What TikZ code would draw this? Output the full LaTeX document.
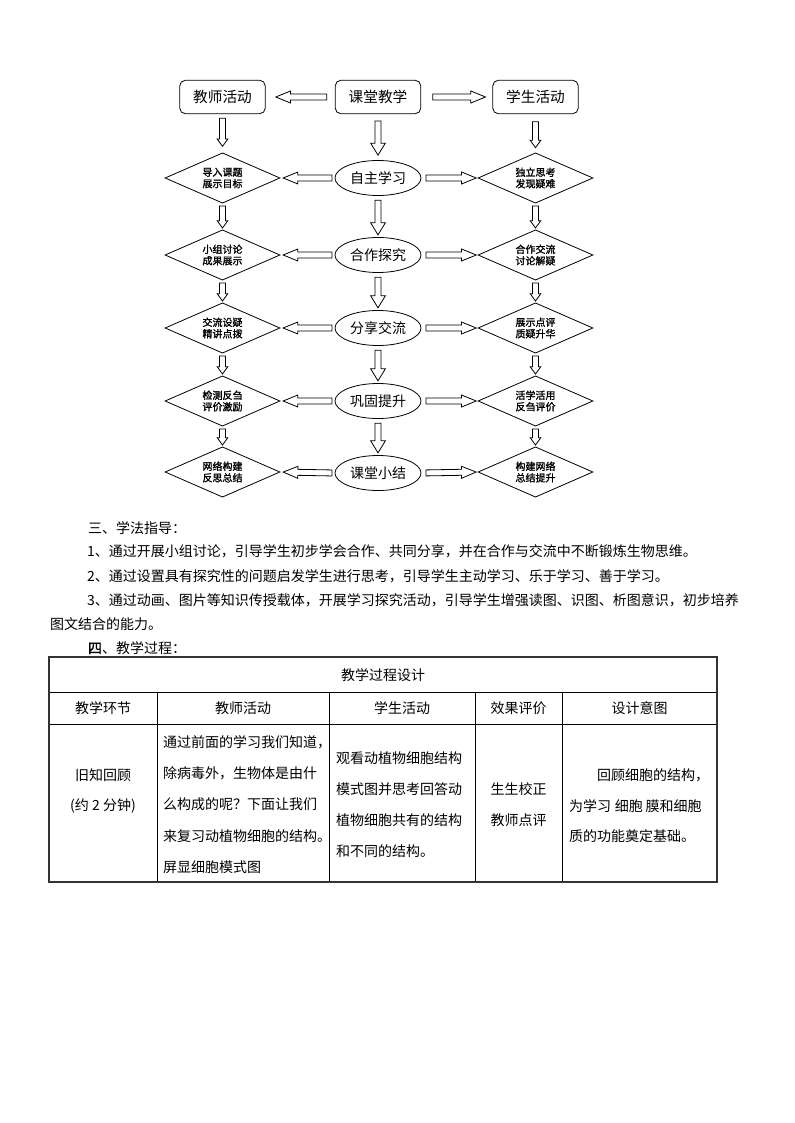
\documentclass[tikz,border=0pt]{standalone}
\usepackage{fontspec}
\setmainfont{Noto Sans CJK SC}
\newfontfamily\cjkbold[FakeBold=1.5]{Noto Sans CJK SC}
\usetikzlibrary{shapes.geometric,calc}
% #1 head length, #2 head half-width, #3 from, #4 to, #5 gap at start, #6 gap at end
\newcommand{\blockarrow}[6]{%
  \coordinate (bas) at ($(#3)!#5!(#4)$);
  \coordinate (bae) at ($(#4)!#6!(#3)$);
  \coordinate (bah) at ($(bae)!#1!(bas)$);
  \draw[hollow] ($(bas)!2.25pt!90:(bae)$) -- ($(bah)!2.25pt!-90:(bas)$) -- ($(bah)!#2!-90:(bas)$) -- (bae) -- ($(bah)!#2!90:(bas)$) -- ($(bah)!2.25pt!90:(bas)$) -- ($(bas)!2.25pt!-90:(bae)$) -- cycle;
}
\tikzset{
  every node/.style={inner sep=0pt, outer sep=0pt},
  topbox/.style={draw, line width=0.6pt, rounded corners=4pt, minimum width=64pt, minimum height=25pt, font=\fontsize{11}{13}\selectfont},
  dia/.style={draw, line width=0.6pt, diamond, aspect=2.3, minimum width=86pt, minimum height=37.5pt, align=center, font=\cjkbold\fontsize{7.5}{8.6}\selectfont},
  ell/.style={draw, line width=0.6pt, ellipse, minimum width=64.5pt, minimum height=26.25pt, font=\fontsize{10.5}{12}\selectfont},
  hollow/.style={draw, line width=0.6pt, fill=white, line join=miter},
  para/.style={anchor=west, font=\fontsize{10.5}{12}\selectfont},
  cell/.style={font=\fontsize{10.5}{12}\selectfont},
  cellw/.style={anchor=west, font=\fontsize{10.5}{12}\selectfont},
  tline/.style={line width=0.6pt},
  touter/.style={line width=1.4pt, draw=black!80}
}
\begin{document}
\begin{tikzpicture}[x=0.75pt,y=-0.75pt]
\path[use as bounding box, fill=white] (0,0) rectangle (794,1123);

% ---------- flowchart ----------
\node[topbox] (tjs) at (222.5,97) {教师活动};
\node[topbox] (tkt) at (378,97) {课堂教学};
\node[topbox] (txs) at (535.5,97) {学生活动};

\node[dia] (L1) at (222.5,178) {导入课题\\展示目标};
\node[ell] (C1) at (378,178) {自主学习};
\node[dia] (R1) at (535.5,178) {独立思考\\发现疑难};

\node[dia] (L2) at (222.5,255) {小组讨论\\成果展示};
\node[ell] (C2) at (378,255) {合作探究};
\node[dia] (R2) at (535.5,255) {合作交流\\讨论解疑};

\node[dia] (L3) at (222.5,328) {交流设疑\\精讲点拨};
\node[ell] (C3) at (378,328) {分享交流};
\node[dia] (R3) at (535.5,328) {展示点评\\质疑升华};

\node[dia] (L4) at (222.5,401) {检测反刍\\评价激励};
\node[ell] (C4) at (378,401) {巩固提升};
\node[dia] (R4) at (535.5,401) {活学活用\\反刍评价};

\node[dia] (L5) at (222.5,472) {网络构建\\反思总结};
\node[ell] (C5) at (378,473) {课堂小结};
\node[dia] (R5) at (535.5,472) {构建网络\\总结提升};

% top arrows
\blockarrow{11pt}{4.5pt}{tkt.west}{tjs.east}{6.5pt}{8pt}
\blockarrow{11pt}{4.5pt}{tkt.east}{txs.west}{9pt}{5.5pt}
\blockarrow{5.5pt}{4pt}{tjs.south}{L1.north}{3.5pt}{5pt}
\blockarrow{9pt}{5.5pt}{tkt.south}{C1.north}{5.5pt}{4pt}
\blockarrow{5.5pt}{4pt}{txs.south}{R1.north}{6pt}{4pt}

% row arrows
\foreach \i in {1,...,5}{
  \blockarrow{11pt}{4.5pt}{C\i.west}{L\i.east}{2.25pt}{2.5pt}
  \blockarrow{11pt}{4.5pt}{C\i.east}{R\i.west}{3.75pt}{1.5pt}
}
\foreach \i/\j in {1/2,2/3,3/4,4/5}{
  \blockarrow{5.5pt}{4pt}{L\i.south}{L\j.north}{2.25pt}{1.5pt}
  \blockarrow{9pt}{5.5pt}{C\i.south}{C\j.north}{3.5pt}{2pt}
  \blockarrow{5.5pt}{4pt}{R\i.south}{R\j.north}{2.25pt}{1.5pt}
}

% ---------- text ----------
\node[para] (p1) at (88,528) {三、学法指导：};
\node[para] (p2) at (87,551) {1、通过开展小组讨论，引导学生初步学会合作、共同分享，并在合作与交流中不断锻炼生物思维。};
\node[para] (p3) at (87,576) {2、通过设置具有探究性的问题启发学生进行思考，引导学生主动学习、乐于学习、善于学习。};
\node[para] (p4) at (87,600) {3、通过动画、图片等知识传授载体，开展学习探究活动，引导学生增强读图、识图、析图意识，初步培养};
\node[para] (p5) at (50,624) {图文结合的能力。};
\node[para] (p6) at (88,648) {{\cjkbold 四}、教学过程：};

% ---------- table ----------
\draw[tline] (49,692) -- (717,692);
\draw[tline] (49,724) -- (717,724);
\foreach \xx in {157,329,475,562}{
  \draw[tline] (\xx,692) -- (\xx,882);
}
\draw[touter] (49,657) rectangle (717,882);

\node[cell] (ttitle) at (383,675) {教学过程设计};
\node[cell] (h1) at (103,708) {教学环节};
\node[cell] (h2) at (243,708) {教师活动};
\node[cell] (h3) at (402,708) {学生活动};
\node[cell] (h4) at (518.5,708) {效果评价};
\node[cell] (h5) at (639.5,708) {设计意图};

\node[cell] (a1) at (103,775) {旧知回顾};
\node[cell] (a2) at (103,806) {(约 2 分钟)};

\node[cellw] (b1) at (163,742) {通过前面的学习我们知道，};
\node[cellw] (b2) at (163,773) {除病毒外，生物体是由什};
\node[cellw] (b3) at (163,804) {么构成的呢？下面让我们};
\node[cellw] (b4) at (163,836) {来复习动植物细胞的结构。};
\node[cellw] (b5) at (163,867) {屏显细胞模式图};

\node[cellw] (c1) at (336,758) {观看动植物细胞结构};
\node[cellw] (c2) at (336,789) {模式图并思考回答动};
\node[cellw] (c3) at (336,820) {植物细胞共有的结构};
\node[cellw] (c4) at (336,851) {和不同的结构。};

\node[cell] (d1) at (518.5,789) {生生校正};
\node[cell] (d2) at (518.5,820) {教师点评};

\node[cellw] (e1) at (597,775) {回顾细胞的结构，};
\node[cellw] (e2) at (569,806) {为学习\hspace{3pt}细胞\hspace{2pt}膜和细胞};
\node[cellw] (e3) at (569,836) {质的功能奠定基础。};
\end{tikzpicture}
\end{document}
